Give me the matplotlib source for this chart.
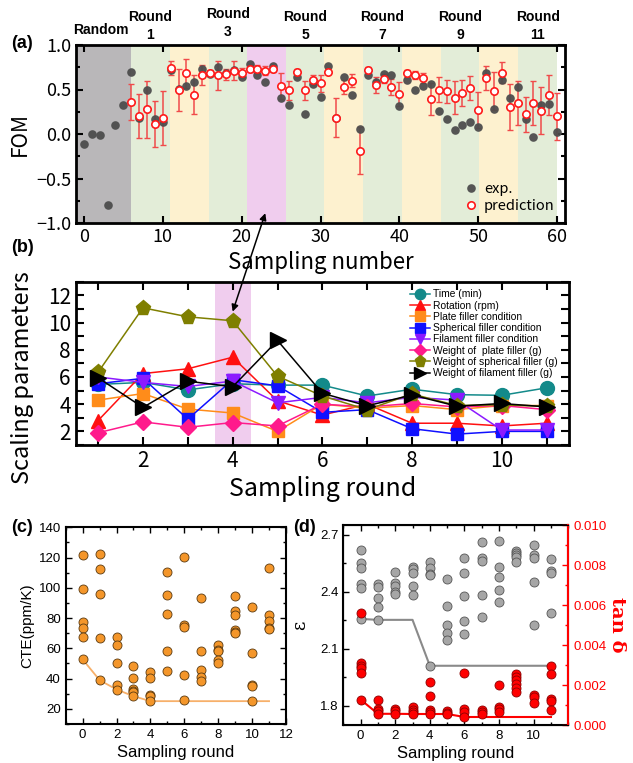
import numpy as np
import matplotlib
matplotlib.use("Agg")
import matplotlib.pyplot as plt
from matplotlib.patches import ConnectionPatch
from matplotlib.ticker import MultipleLocator
import matplotlib.transforms as mtransforms

# ---------------- data: panel (a) ----------------
sampling_number = list(range(61))
fom_exp = [-0.11, 0.00, -0.01, -0.80, 0.10, 0.33,
           0.70, 0.185, 0.50, 0.17, 0.14,
           0.72, 0.51, 0.54, 0.58, 0.73,
           0.67, 0.75, 0.68, 0.72, 0.64,
           0.79, 0.66, 0.58, 0.76, 0.40,
           0.33, 0.64, 0.23, 0.56, 0.42,
           0.76, 0.18, 0.645, 0.44, 0.055,
           0.66, 0.58, 0.67, 0.66, 0.32,
           0.61, 0.49, 0.54, 0.56, 0.26,
           0.17, 0.04, 0.10, 0.13, 0.08,
           0.68, 0.28, 0.61, 0.41, 0.53,
           0.17, -0.035, 0.33, 0.335, 0.02]
pred_number = list(range(6, 61))
fom_pred = [0.36, 0.20, 0.28, 0.11, 0.18,
            0.74, 0.49, 0.68, 0.44, 0.66,
            0.69, 0.66, 0.67, 0.71, 0.69,
            0.73, 0.73, 0.71, 0.73, 0.54,
            0.49, 0.70, 0.49, 0.61, 0.57,
            0.70, 0.185, 0.53, 0.60, -0.19,
            0.72, 0.55, 0.62, 0.53, 0.45,
            0.68, 0.66, 0.63, 0.39, 0.50,
            0.48, 0.41, 0.46, 0.52, 0.27,
            0.63, 0.48, 0.69, 0.30, 0.35,
            0.22, 0.35, 0.26, 0.44, 0.20]
fom_pred_err = [0.20, 0.245, 0.32, 0.26, 0.30,
                0.075, 0.235, 0.16, 0.22, 0.115,
                0.03, 0.16, 0.06, 0.105, 0.055,
                0.035, 0.045, 0.05, 0.035, 0.15,
                0.11, 0.03, 0.11, 0.05, 0.095,
                0.02, 0.215, 0.075, 0.07, 0.265,
                0.03, 0.09, 0.05, 0.09, 0.135,
                0.04, 0.045, 0.06, 0.18, 0.145,
                0.13, 0.18, 0.145, 0.135, 0.20,
                0.135, 0.215, 0.115, 0.26, 0.25,
                0.20, 0.25, 0.265, 0.225, 0.265]
round_labels = ["Random", "Round\n1", "Round\n3", "Round\n5", "Round\n7", "Round\n9", "Round\n11"]

# ---------------- data: panel (b) ----------------
rounds_b = list(range(1, 12))
param_names = ["Time (min)", "Rotation (rpm)", "Plate filler condition",
               "Spherical filler condition", "Filament filler condition",
               "Weight of  plate filler (g)", "Weight of spherical filler (g)",
               "Weight of filament filler (g)"]
time_min = [5.45, 5.6, 5.05, 5.5, 5.4, 5.4, 4.6, 5.1, 4.7, 4.65, 5.2]
rotation = [2.8, 6.25, 6.6, 7.45, 4.25, 3.2, 4.0, 2.6, 2.6, 2.4, 2.6]
plate_cond = [4.3, 4.78, 3.64, 3.35, 2.0, 4.0, 3.7, 3.9, 3.6, 3.9, 3.9]
spherical_cond = [5.5, 5.9, 2.9, 5.8, 5.35, 3.4, 3.6, 2.2, 1.8, 2.0, 2.0]
filament_cond = [6.0, 5.6, 5.3, 5.7, 4.1, 4.5, 4.1, 4.5, 4.3, 2.1, 2.1]
plate_weight = [1.9, 2.7, 2.3, 2.65, 2.4, 4.0, 3.8, 4.05, 3.8, 3.9, 3.6]
spherical_weight = [6.35, 11.08, 10.42, 10.13, 6.06, 4.6, 3.6, 4.75, 3.9, 3.95, 3.85]
filament_weight = [5.94, 3.76, 5.69, 5.28, 8.68, 4.8, 3.88, 4.68, 3.85, 4.05, 3.8]

# ---------------- data: panel (c) ----------------
cte_by_round = [
    [121.5, 99.2, 77.2, 73.2, 67.2, 52.7],
    [122.4, 112.7, 95.9, 66.6, 39.0],
    [67.7, 62.4, 50.3, 36.1, 32.8],
    [48.3, 40.3, 33.1, 32.0, 30.9, 28.4],
    [44.1, 40.3, 28.9, 28.2, 25.1],
    [110.2, 95.0, 82.9, 58.2, 44.7],
    [120.6, 75.4, 74.3, 42.3, 25.8],
    [93.5, 58.4, 45.6, 40.8, 38.6],
    [62.4, 58.9, 58.0, 52.5, 50.0],
    [94.6, 84.4, 82.2, 72.1, 70.8, 69.9],
    [87.1, 57.1, 36.1, 35.3, 25.1],
    [113.3, 82.2, 78.0, 73.2, 72.7],
]

# ---------------- data: panel (d) ----------------
eps_by_round = [
    [2.618, 2.553, 2.522, 2.440, 2.421, 2.257],
    [2.440, 2.426, 2.369, 2.322, 2.252],
    [2.501, 2.447, 2.431, 2.400, 2.389],
    [2.527, 2.519, 2.496, 2.430, 2.383],
    [2.557, 2.522, 2.494, 2.489, 2.011],
    [2.465, 2.327, 2.224, 2.184, 2.147],
    [2.576, 2.499, 2.377, 2.247, 2.179],
    [2.662, 2.576, 2.562, 2.384, 2.269],
    [2.667, 2.529, 2.477, 2.409, 2.344],
    [2.615, 2.601, 2.590, 2.581, 2.557],
    [2.646, 2.592, 2.578, 2.452, 2.226],
    [2.574, 2.506, 2.499, 2.287],
]
tand_by_round = [
    [0.00562, 0.0031, 0.00297, 0.00283, 0.00262, 0.00127],
    [0.00123, 0.00082, 0.0007, 0.00056],
    [0.00082, 0.0007, 0.00057],
    [0.0009, 0.00077, 0.00065, 0.00055],
    [0.00217, 0.00147, 0.00077, 0.00065, 0.00055],
    [0.0007, 0.0006, 0.00055],
    [0.00262, 0.0008, 0.00065, 0.0004],
    [0.00073, 0.00065, 0.00053],
    [0.00202, 0.0009, 0.00078, 0.00065],
    [0.00257, 0.0024, 0.00223, 0.00207, 0.00187, 0.00165],
    [0.00148, 0.0014, 0.00112],
    [0.00293, 0.00253, 0.00128, 0.0012, 0.00073],
]

# ================= figure =================
W, H = 633, 763
fig = plt.figure(figsize=(W / 100, H / 100), dpi=100)

def frac(l, t, r, b):
    return [l / W, 1 - b / H, (r - l) / W, (b - t) / H]

JP = ["Noto Sans CJK JP", "DejaVu Sans"]
AR = ["Liberation Sans", "DejaVu Sans"]

ax_a = fig.add_axes(frac(76, 45, 565, 223))
ax_b = fig.add_axes(frac(75.7, 281.7, 569, 445))
ax_c = fig.add_axes(frac(65.7, 527.3, 286, 724))
ax_d = fig.add_axes(frac(343.3, 525, 568.3, 725))

# ---------- panel (a) ----------
edges = [-1, 5.95, 10.9, 15.8, 20.7, 25.6, 30.5, 35.4, 40.3, 45.3, 50.1, 55.1, 60.0]
span_colors = ["#b9b7b9", "#e3edd8", "#fdf1cf", "#e3edd8", "#f0cdee", "#e3edd8",
               "#fdf1cf", "#e3edd8", "#fdf1cf", "#e3edd8", "#fdf1cf", "#e3edd8"]
for i, c in enumerate(span_colors):
    ax_a.axvspan(edges[i], edges[i + 1], color=c, lw=0, zorder=0)

ax_a.errorbar(pred_number, fom_pred, yerr=fom_pred_err, fmt="none",
              ecolor="#f04a4a", elinewidth=1.1, capsize=2.2, capthick=1.0, zorder=2)
ax_a.plot(sampling_number, fom_exp, "o", color="#4d4d4d", ms=6.2, mec="none",
          alpha=0.95, zorder=3, label="exp.")
ax_a.plot(pred_number, fom_pred, "o", mfc="white", mec="#ff1a1a", mew=1.2,
          ms=5.3, zorder=4, label="prediction")
ax_a.set_xlim(-1, 61)
ax_a.set_ylim(-1, 1)
ax_a.set_xticks(range(0, 61, 10))
ax_a.set_yticks([-1.0, -0.5, 0.0, 0.5, 1.0])
ax_a.yaxis.set_minor_locator(MultipleLocator(0.25))
ax_a.tick_params(which="both", direction="in", top=True, right=True, width=1.5)
ax_a.tick_params(which="major", length=5, labelsize=13)
ax_a.tick_params(which="minor", length=3)
for lab in ax_a.get_xticklabels() + ax_a.get_yticklabels():
    lab.set_family(JP)
ax_a.set_ylabel("FOM", fontsize=15, family=JP, labelpad=4)
ax_a.set_xlabel("Sampling number", fontsize=16, family=JP, labelpad=4)
for s in ax_a.spines.values():
    s.set_linewidth(2)
ax_a.legend(loc="lower right", frameon=False, bbox_to_anchor=(1.0, 0.0),
            handletextpad=0.3, borderaxespad=0.3, labelspacing=0.2, handlelength=1.2,
            prop={"family": JP, "size": 10.5})

trans_a = mtransforms.blended_transform_factory(ax_a.transData, fig.transFigure)
starts = [0, 1, 3, 5, 7, 9, 11]
for lab, idx in zip(round_labels, starts):
    xc = (edges[idx] + edges[idx + 1]) / 2
    if idx == 0:
        xc = 2.1
        ax_a.text(xc, 1 - 30 / H, lab, transform=trans_a, ha="center", va="center",
                  fontsize=10, fontweight="bold", family=AR)
    else:
        yc = 1 - (23 if idx == 3 else 26) / H
        ax_a.text(xc, yc, lab, transform=trans_a, ha="center", va="center",
                  fontsize=10, fontweight="bold", family=AR, linespacing=1.3)
fig.text(22 / W, 1 - 43 / H, "(a)", fontsize=13, fontweight="bold", family=AR,
         ha="center", va="center")

# ---------- panel (b) ----------
series = [time_min, rotation, plate_cond, spherical_cond, filament_cond,
          plate_weight, spherical_weight, filament_weight]
colors = ["#138a8a", "#ff1010", "#ff8c1a", "#1010ff", "#8c1aff", "#ff1a8c",
          "#7f7f00", "#000000"]
markers = ["o", "^", "s", "s", "v", "D", "p", ">"]
msizes = [10, 10, 9, 9, 10, 8.5, 11, 11]
ax_b.axvspan(3.6, 4.4, color="#f0cdee", lw=0, zorder=0)
for vals, name, c, m, msz in zip(series, param_names, colors, markers, msizes):
    ax_b.plot(rounds_b, vals, "-", color=c, marker=m, ms=msz, lw=1.1, label=name,
              mec=c, zorder=3)
ax_b.set_xlim(0.5, 11.5)
ax_b.set_ylim(1, 13)
ax_b.set_xticks(range(2, 12, 2))
ax_b.xaxis.set_minor_locator(MultipleLocator(1))
ax_b.set_yticks(range(2, 13, 2))
ax_b.yaxis.set_minor_locator(MultipleLocator(1))
ax_b.tick_params(which="both", direction="in", top=True, right=True, width=1.5)
ax_b.tick_params(which="major", length=6, labelsize=15)
ax_b.tick_params(which="minor", length=6)
for lab in ax_b.get_xticklabels() + ax_b.get_yticklabels():
    lab.set_family(JP)
ax_b.set_ylabel("Scaling parameters", fontsize=17, family=JP)
ax_b.yaxis.set_label_coords(-0.085, 0.41)
ax_b.set_xlabel("Sampling round", fontsize=18, family=JP, labelpad=3)
for s in ax_b.spines.values():
    s.set_linewidth(2)
ax_b.legend(loc="upper right", bbox_to_anchor=(0.99, 0.99), frameon=False,
            prop={"family": AR, "size": 7.4}, markerscale=0.75,
            handlelength=2.0, handletextpad=0.3, labelspacing=0.12, borderaxespad=0.2)
fig.text(22 / W, 1 - 247 / H, "(b)", fontsize=13, fontweight="bold", family=AR,
         ha="center", va="center")

con = ConnectionPatch(xyA=(23.0, -0.89), coordsA=ax_a.transData,
                      xyB=(4.0, 10.8), coordsB=ax_b.transData,
                      arrowstyle="<|-|>", mutation_scale=10, color="black", lw=1.1)
fig.add_artist(con)

# ---------- panel (c) ----------
for r, vals in enumerate(cte_by_round):
    ax_c.plot([r] * len(vals), vals, "o", mfc="#f4962a", mec="#5a3a10", mew=0.6,
              ms=6.5, zorder=3)
cte_best = np.minimum.accumulate([min(v) for v in cte_by_round])
ax_c.plot(range(len(cte_best)), cte_best, "-", color="#f7b06a", lw=1.3, zorder=2)
ax_c.set_xlim(-1, 12)
ax_c.set_ylim(10, 140)
ax_c.set_xticks(range(0, 13, 2))
ax_c.xaxis.set_minor_locator(MultipleLocator(1))
ax_c.set_yticks(range(20, 141, 20))
ax_c.yaxis.set_minor_locator(MultipleLocator(10))
ax_c.tick_params(which="both", direction="in", top=True, right=True, width=1.0)
ax_c.tick_params(which="major", length=4, labelsize=9.5)
ax_c.tick_params(which="minor", length=2)
for lab in ax_c.get_xticklabels() + ax_c.get_yticklabels():
    lab.set_family(AR)
ax_c.set_ylabel("CTE(ppm/K)", fontsize=11, family=AR, labelpad=3)
ax_c.set_xlabel("Sampling round", fontsize=12, family=AR, labelpad=3)
for s in ax_c.spines.values():
    s.set_linewidth(1.5)
fig.text(22 / W, 1 - 527 / H, "(c)", fontsize=13, fontweight="bold", family=AR,
         ha="center", va="center")

# ---------- panel (d) ----------
for r, vals in enumerate(eps_by_round):
    ax_d.plot([r] * len(vals), vals, "o", mfc="#a6a6a6", mec="#555555", mew=0.6,
              ms=6.5, zorder=3)
eps_best = np.minimum.accumulate([min(v) for v in eps_by_round])
ax_d.plot(range(len(eps_best)), eps_best, "-", color="#8a8a8a", lw=1.5, zorder=2)
ax_d.set_xlim(-1, 12)
ax_d.set_ylim(1.70, 2.75)
ax_d.set_xticks(range(0, 11, 2))
ax_d.xaxis.set_minor_locator(MultipleLocator(1))
ax_d.set_yticks([1.8, 2.1, 2.4, 2.7])
ax_d.yaxis.set_minor_locator(MultipleLocator(0.15))
ax_d.tick_params(which="both", direction="in", top=True, width=1.0)
ax_d.tick_params(which="major", length=4, labelsize=9.5)
ax_d.tick_params(which="minor", length=2)
for lab in ax_d.get_xticklabels() + ax_d.get_yticklabels():
    lab.set_family(AR)
ax_d.set_xlabel("Sampling round", fontsize=12, family=AR, labelpad=3)
ax_d.set_ylabel("ε", fontsize=13, family=["DejaVu Serif"], labelpad=8)
for s in ax_d.spines.values():
    s.set_linewidth(1.5)

ax_t = ax_d.twinx()
for r, vals in enumerate(tand_by_round):
    ax_t.plot([r] * len(vals), vals, "o", mfc="#ff0000", mec="#8b0000", mew=0.6,
              ms=6.5, zorder=3)
tand_best = np.minimum.accumulate([min(v) for v in tand_by_round])
ax_t.plot(range(len(tand_best)), tand_best, "-", color="#ff0000", lw=1.5, zorder=2)
ax_t.set_ylim(0, 0.010)
ax_t.set_yticks(np.arange(0, 0.0101, 0.002))
ax_t.yaxis.set_minor_locator(MultipleLocator(0.001))
ax_t.yaxis.set_major_formatter(matplotlib.ticker.FormatStrFormatter("%.3f"))
ax_t.tick_params(which="both", direction="in", colors="#ff0000", width=1.0)
ax_t.tick_params(which="major", length=4, labelsize=9.5)
ax_t.tick_params(which="minor", length=2)
for lab in ax_t.get_yticklabels():
    lab.set_family(AR)
ax_t.spines["right"].set_color("#ff0000")
ax_t.spines["right"].set_linewidth(1.5)
ax_t.set_ylabel("tan δ", fontsize=14, color="#ff0000", fontweight="bold",
                family=["DejaVu Serif"], rotation=270, labelpad=14)
fig.text(305 / W, 1 - 527 / H, "(d)", fontsize=13, fontweight="bold", family=AR,
         ha="center", va="center")

fig.savefig("out.png", dpi=100)
